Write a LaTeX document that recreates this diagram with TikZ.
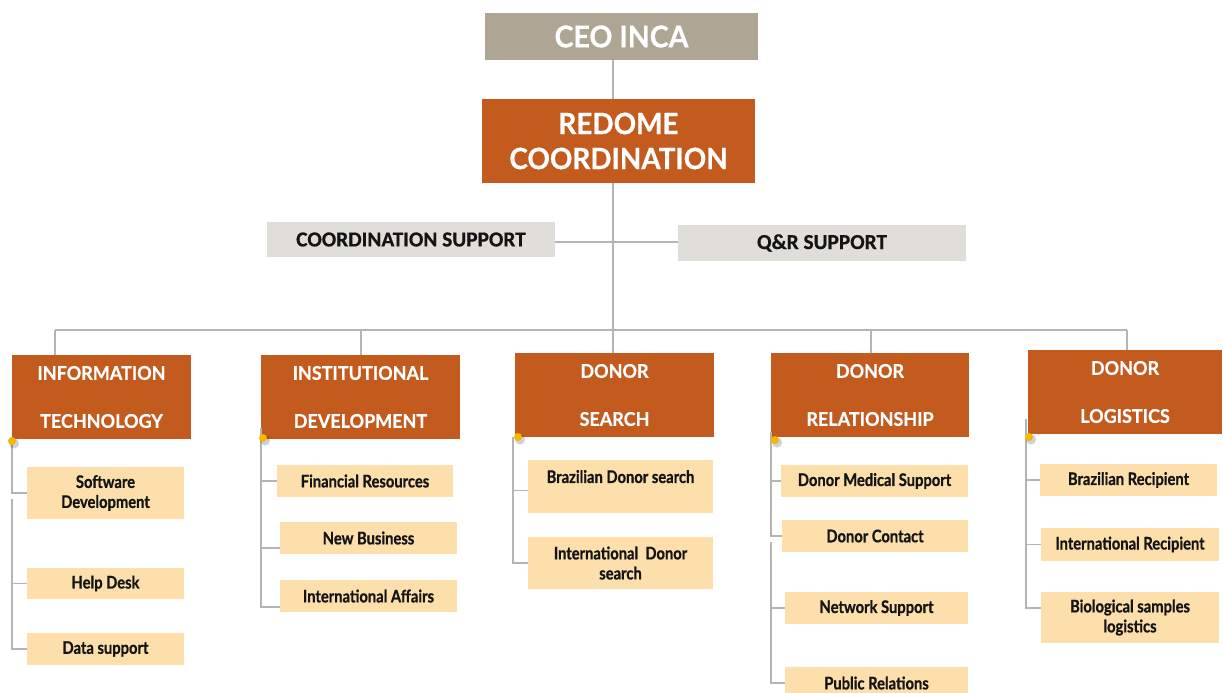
\documentclass[tikz,border=0pt]{standalone}
\usepackage{fontspec}
\setmainfont{Lato}
\newfontfamily\headfont[FakeStretch=0.95, BoldFeatures={FakeBold=0.6}]{Lato}
\newfontfamily\subfont[FakeStretch=0.85, BoldFeatures={FakeBold=0.8}]{Lato}
\newfontfamily\supfont[BoldFeatures={FakeBold=0.6}]{Carlito}
\usetikzlibrary{calc}
\definecolor{ceoC}{HTML}{AFA595}
\definecolor{orC}{HTML}{C45B1E}
\definecolor{supC}{HTML}{E0DED8}
\definecolor{peachC}{HTML}{FCDFAB}
\definecolor{lineC}{HTML}{B4B4B4}
\definecolor{dotC}{HTML}{F6B700}
\definecolor{txtC}{HTML}{141414}
\def\pxu{0.75pt}
\newcommand\mybox[7]{\node[#2, minimum width={(#5-#3)*\pxu}, minimum height={(#6-#4)*\pxu}] (#1) at ({(#3+#5)/2},{(#4+#6)/2}) {#7};}
\newcommand\mydot[1]{\fill[black,opacity=0.18] ($(#1)+(2,2.5)$) circle (5);\fill[dotC] (#1) circle (4);}
\tikzset{
  box/.style={inner sep=0pt, align=center},
  ceobox/.style={box, fill=ceoC, text=white, font=\headfont\bfseries\fontsize{22.5}{26}\selectfont},
  topbox/.style={box, fill=orC, text=white, font=\headfont\bfseries\fontsize{22}{26.25}\selectfont},
  supbox/.style={box, fill=supC, text=txtC, font=\supfont\bfseries\fontsize{16}{18}\selectfont},
  headbox/.style={box, fill=orC, text=white, font=\headfont\bfseries\fontsize{14.2}{36}\selectfont},
  subbox/.style={box, fill=peachC, text=txtC, font=\subfont\bfseries\fontsize{13}{15}\selectfont},
  conn/.style={draw=lineC, line width=1.2pt},
}
\begin{document}
\begin{tikzpicture}[x=0.75pt,y=-0.75pt]
\useasboundingbox (0,0) rectangle (1223,692);
\clip (0,0) rectangle (1223,692);
% top
\mybox{ceo}{ceobox}{485}{13}{758}{60}{CEO INCA}
\mybox{redome}{topbox}{482}{99}{755}{183}{REDOME\\COORDINATION}
\mybox{csup}{supbox}{267}{222}{555}{257}{COORDINATION SUPPORT}
\mybox{qr}{supbox}{678}{225}{966}{261}{Q\&R SUPPORT}
% heads
\mybox{it}{headbox}{12}{355}{191}{439}{INFORMATION\\TECHNOLOGY}
\mybox{inst}{headbox}{261}{355}{460}{439}{INSTITUTIONAL\\DEVELOPMENT}
\mybox{srch}{headbox}{515}{353}{714}{437}{DONOR\\SEARCH}
\mybox{rel}{headbox}{771}{353}{969}{437}{DONOR\\RELATIONSHIP}
\mybox{logi}{headbox}{1028}{350}{1222}{434}{DONOR\\LOGISTICS}
% subs
\mybox{sw}{subbox}{27}{467}{184}{519}{Software\\Development}
\mybox{hd}{subbox}{27}{568}{184}{599}{Help Desk}
\mybox{ds}{subbox}{27}{633}{184}{665}{Data support}
\mybox{fin}{subbox}{277}{465}{453}{497}{Financial Resources}
\mybox{nb}{subbox}{280}{522}{457}{554}{New Business}
\mybox{ia}{subbox}{280}{580}{457}{612}{International Affairs}
\mybox{bds}{subbox}{528}{460}{713}{513}{Brazilian Donor search\\[0pt]~}
\mybox{ids}{subbox}{528}{537}{713}{589}{International~ Donor\\search}
\mybox{dms}{subbox}{781}{465}{968}{497}{Donor Medical Support}
\mybox{dc}{subbox}{782}{520}{968}{552}{Donor Contact}
\mybox{ns}{subbox}{785}{592}{968}{624}{Network Support}
\mybox{pr}{subbox}{785}{667}{968}{699}{Public Relations}
\mybox{br}{subbox}{1040}{464}{1217}{496}{Brazilian Recipient}
\mybox{ir}{subbox}{1041}{528}{1219}{561}{International Recipient}
\mybox{bio}{subbox}{1041}{592}{1219}{643}{Biological samples\\logistics}
% spine and bus
\coordinate (spine) at (613,330);
\coordinate (busL) at (55,330);
\coordinate (busR) at (1127,330);
\coordinate (d2) at (361,330);
\coordinate (d4) at (871,330);
\coordinate (sy) at (613,242);
\draw[conn] (spine |- ceo.south) -- (spine |- redome.north);
\draw[conn] (spine |- redome.south) -- (spine);
\draw[conn] (csup.east |- sy) -- (qr.west |- sy);
\draw[conn] (busL) -- (busR);
\draw[conn] (busL) -- (busL |- it.north);
\draw[conn] (d2) -- (d2 |- inst.north);
\draw[conn] (spine) -- (spine |- srch.north);
\draw[conn] (d4) -- (d4 |- rel.north);
\draw[conn] (busR) -- (busR |- logi.north);
% sub connectors
\coordinate (itA) at (12,441);
\coordinate (itB) at (12,499);
\draw[conn] (itA) |- (sw.west);
\draw[conn] (itB) |- (hd.west);
\draw[conn] (itB) |- (ds.west);
\coordinate (inA) at (261,428);
\draw[conn] (inA) |- (fin.west);
\draw[conn] (inA) |- ($(nb.west)+(0,10)$);
\draw[conn] (inA) |- ($(ia.west)+(0,11)$);
\coordinate (srA) at (513,437);
\draw[conn] (srA) |- ($(bds.west)+(0,4)$);
\draw[conn] (srA) |- (ids.west);
\coordinate (reA) at (771,432);
\coordinate (reB) at (771,542);
\draw[conn] (reA) |- (dms.west);
\draw[conn] (reA) |- (dc.west);
\draw[conn] (reB) |- (ns.west);
\draw[conn] (reB) |- (pr.west);
\coordinate (loA) at (1026,419);
\draw[conn] (loA) |- (br.west);
\draw[conn] (loA) |- (ir.west);
\draw[conn] (loA) |- ($(bio.west)+(0,-9.5)$);
% dots
\coordinate (dot1) at (12,441);
\coordinate (dot2) at (263,438);
\coordinate (dot3) at (518,437);
\coordinate (dot4) at (775,440);
\coordinate (dot5) at (1029,437);
\mydot{dot1}\mydot{dot2}\mydot{dot3}\mydot{dot4}\mydot{dot5}
\end{tikzpicture}
\end{document}
